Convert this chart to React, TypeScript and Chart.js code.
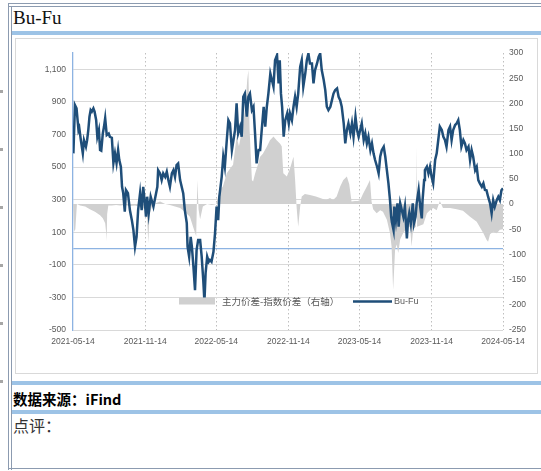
import React, { useEffect, useRef } from "react";
import { Chart, registerables } from "chart.js";

Chart.register(...registerables);

// x positions are days since 2021-05-14
const xTickDays = [0, 184, 365, 549, 730, 914, 1096];
const xTickLabels = ["2021-05-14", "2021-11-14", "2022-05-14", "2022-11-14", "2023-05-14", "2023-11-14", "2024-05-14"];

const leftTicks = [-500, -300, -100, 0, 100, 300, 500, 700, 900, 1100];
const rightTicks = [-250, -200, -150, -100, -50, 0, 50, 100, 150, 200, 250, 300];

// Bu-Fu (left axis)
const lineDays = [
  1, 5, 9, 14, 16, 20, 25, 28, 33, 36, 39, 42, 45, 48, 52, 55, 59, 62, 66, 69,
  72, 76, 79, 82, 86, 91, 94, 99, 103, 107, 111, 115, 118, 122, 125, 128, 132, 135, 140, 145,
  150, 154, 158, 162, 166, 171, 175, 179, 184, 186, 189, 193, 198, 205, 210, 215, 217, 222, 226, 230,
  235, 239, 243, 247, 252, 256, 260, 264, 268, 273, 281, 285, 290, 292, 296, 300, 303, 307, 311, 315,
  319, 324, 328, 332, 335, 338, 342, 346, 349, 353, 358, 362, 366, 370, 373, 379, 383, 387, 392, 396,
  400, 405, 409, 413, 417, 421, 426, 430, 434, 438, 443, 447, 451, 456, 460, 464, 468, 473, 477, 481,
  486, 490, 494, 498, 503, 507, 511, 515, 520, 524, 527, 530, 533, 537, 541, 546, 550, 553, 558, 562,
  566, 570, 574, 579, 583, 587, 592, 596, 600, 604, 609, 613, 617, 622, 626, 630, 634, 639, 643, 647,
  651, 656, 660, 664, 668, 673, 677, 681, 685, 690, 694, 698, 702, 707, 711, 715, 720, 724, 728, 732,
  736, 741, 745, 749, 753, 758, 762, 766, 770, 775, 779, 783, 787, 792, 796, 800, 804, 808, 811, 813,
  817, 819, 823, 827, 830, 834, 838, 842, 846, 851, 854, 857, 861, 866, 869, 873, 876, 881, 885, 889,
  891, 895, 897, 902, 906, 910, 914, 918, 923, 927, 931, 935, 940, 944, 948, 952, 957, 961, 965, 969,
  974, 978, 982, 986, 990, 995, 999, 1003, 1008, 1012, 1016, 1020, 1025, 1029, 1033, 1037, 1042, 1046, 1050, 1054,
  1058, 1063, 1067, 1071, 1075, 1080, 1084, 1088, 1092, 1096,
];
const buFu = [
  584, 880, 860, 727, 740, 665, 585, 665, 625, 665, 727, 809, 850, 840, 860, 840, 789, 686, 727, 604,
  600, 706, 747, 800, 696, 706, 686, 680, 524, 584, 524, 604, 543, 502, 379, 340, 226, 359, 340, 236,
  174, 113, 11, 72, 236, 340, 236, 379, 257, 195, 318, 216, 318, 257, 318, 379, 481, 461, 420, 461,
  440, 471, 420, 379, 461, 481, 440, 512, 522, 420, 338, 236, 156, 11, -50, 72, 11, -112, -255, -10,
  52, 52, -50, -193, -326, -150, -50, -81, -70, -81, -20, 93, 257, 174, 318, 440, 564, 502, 666, 788,
  768, 604, 666, 727, 891, 707, 748, 686, 931, 951, 809, 931, 951, 850, 870, 707, 523, 604, 604, 727,
  870, 748, 870, 951, 1074, 1034, 993, 1156, 1187, 1013, 1156, 952, 870, 686, 788, 830, 768, 830, 788, 870,
  931, 870, 951, 1115, 1156, 993, 1074, 1156, 1197, 1136, 1136, 1013, 1095, 1136, 1176, 1197, 1095, 1034, 972, 870,
  850, 870, 911, 951, 972, 983, 931, 911, 870, 768, 645, 727, 768, 707, 768, 686, 809, 727, 686, 727,
  768, 666, 707, 645, 686, 604, 645, 584, 543, 502, 461, 563, 604, 625, 563, 481, 400, 297, 195, 160,
  113, 257, 174, 277, 134, 277, 236, 195, 257, 62, 174, 216, 154, 277, 154, 195, 277, 359, 257, 185,
  297, 420, 481, 502, 461, 502, 440, 400, 543, 584, 666, 748, 727, 686, 666, 625, 727, 748, 666, 727,
  758, 768, 788, 727, 625, 666, 645, 604, 625, 543, 604, 563, 481, 502, 420, 400, 379, 400, 359, 357,
  318, 277, 216, 297, 257, 297, 318, 297, 357, 370,
];

// 主力价差-指数价差 (right axis)
const spreadDays = [
  0, 3, 6, 10, 18, 31, 43, 56, 69, 76, 82, 85, 86, 87, 90, 99, 110, 120, 133, 145,
  158, 171, 184, 189, 192, 195, 201, 212, 222, 235, 247, 260, 273, 285, 298, 306, 314, 317, 320, 324,
  331, 342, 354, 365, 370, 375, 382, 392, 400, 408, 417, 423, 434, 440, 444, 447, 450, 456, 459, 464,
  472, 477, 484, 494, 502, 511, 519, 528, 532, 536, 545, 553, 562, 566, 570, 574, 579, 583, 591, 604,
  619, 630, 637, 645, 655, 663, 672, 681, 689, 698, 704, 710, 719, 726, 732, 739, 749, 757, 761, 765,
  774, 783, 790, 800, 808, 812, 816, 821, 825, 829, 834, 842, 851, 859, 863, 867, 874, 876, 877, 893,
  902, 910, 918, 927, 935, 943, 961, 978, 994, 1012, 1029, 1046, 1054, 1058, 1063, 1071, 1080, 1088, 1096,
];
const spread = [
  0, -55, -50, 0, -3, -5, -10, -15, -22, -28, -38, -60, -74, -20, -3, -3, -2, -3, -2, -4,
  -3, -6, -10, -30, -78, -20, -5, 2, 5, 0, -2, -5, -8, -15, -25, -45, -64, 48, -10, -30,
  -5, 0, -2, 0, 15, 28, 35, 61, 70, 78, 134, 115, 160, 200, 246, 266, 150, 48, 45, 60,
  80, 94, 100, 114, 127, 134, 127, 120, 115, 61, 55, 70, 94, 50, -7, -45, -5, 15, 20, 18,
  15, 12, 10, 8, 12, 8, 15, 35, 48, 55, 40, 5, 6, 6, 8, 20, 35, 48, 5, -10,
  -18, -12, -15, -31, -58, -84, -170, -90, -80, -97, -70, -57, -48, -45, -84, -50, -45, 115, -45, -40,
  -18, -12, -8, -12, 6, -8, -8, -10, -13, -25, -35, -58, -71, -75, -60, -55, -58, -51, -50,
];

const TICK_COLOR = "#595959";
const AXIS_BLUE = "#8DB3E2";
const LINE_BLUE = "#1F4E79";
const AREA_GRAY = "#D0D0D0";

const legendPlugin = {
  id: "insideLegend",
  afterDraw(chart: any) {
    const { ctx, chartArea } = chart;
    const l = chartArea.left;
    const b = chartArea.bottom;
    const cy = b - 28.5;
    ctx.save();
    ctx.fillStyle = AREA_GRAY;
    ctx.fillRect(l + 106, cy - 4, 36, 7);
    ctx.fillStyle = TICK_COLOR;
    ctx.textBaseline = "middle";
    ctx.textAlign = "left";
    ctx.font = "9.5px 'Noto Sans CJK SC'";
    ctx.fillText(chart.data.datasets[1].label, l + 149, cy);
    ctx.strokeStyle = LINE_BLUE;
    ctx.lineWidth = 2.4;
    ctx.beginPath();
    ctx.moveTo(l + 280, cy);
    ctx.lineTo(l + 319, cy);
    ctx.stroke();
    ctx.font = "9px 'Liberation Sans'";
    ctx.fillText(chart.data.datasets[0].label, l + 321, cy);
    ctx.restore();
  },
};

function ChartBox() {
  const ref = useRef<HTMLCanvasElement | null>(null);
  useEffect(() => {
    if (!ref.current) return;
    const tickFont = { family: "'Liberation Sans', sans-serif", size: 8.5 };
    const chart = new Chart(ref.current, {
      type: "line",
      data: {
        datasets: [
          {
            label: "Bu-Fu",
            data: lineDays.map((d, i) => ({ x: d, y: buFu[i] })),
            borderColor: LINE_BLUE,
            borderWidth: 2.5,
            pointRadius: 0,
            tension: 0,
            fill: false,
            yAxisID: "y",
          },
          {
            label: "主力价差-指数价差（右轴）",
            data: spreadDays.map((d, i) => ({ x: d, y: spread[i] })),
            borderColor: "rgba(0,0,0,0)",
            borderWidth: 0,
            backgroundColor: AREA_GRAY,
            pointRadius: 0,
            tension: 0,
            fill: "origin",
            yAxisID: "y1",
          },
        ],
      },
      options: {
        animation: false,
        responsive: false,
        maintainAspectRatio: false,
        layout: { padding: { top: 14, left: 0, right: 0, bottom: 0 } },
        plugins: { legend: { display: false }, tooltip: { enabled: false } },
        scales: {
          x: {
            type: "linear",
            min: 0,
            max: 1096,
            afterBuildTicks: (s: any) => {
              s.ticks = xTickDays.map((v) => ({ value: v }));
            },
            afterFit: (s: any) => {
              s.height = 43;
            },
            ticks: {
              autoSkip: false,
              maxRotation: 0,
              padding: 7,
              color: TICK_COLOR,
              font: tickFont,
              callback: (v: any) => {
                const i = xTickDays.indexOf(Number(v));
                return i >= 0 ? xTickLabels[i] : "";
              },
            },
            grid: {
              drawTicks: false,
              color: (c: any) => (c.tick && c.tick.value === 0 ? "rgba(0,0,0,0)" : "#BFBFBF"),
              lineWidth: 1,
            },
            border: { display: false, dash: [1.5, 2.5] },
          },
          y: {
            type: "linear",
            position: "left",
            min: -500,
            max: 1200,
            afterBuildTicks: (s: any) => {
              s.ticks = leftTicks.map((v) => ({ value: v }));
            },
            afterFit: (s: any) => {
              s.width = 57;
            },
            ticks: {
              padding: 7,
              color: TICK_COLOR,
              font: tickFont,
              callback: (v: any) => (Number(v) === 0 ? "" : Number(v).toLocaleString("en-US")),
            },
            grid: {
              drawTicks: false,
              color: (c: any) => (c.tick && c.tick.value === 0 ? AXIS_BLUE : "#D9D9D9"),
              lineWidth: (c: any) => (c.tick && c.tick.value === 0 ? 1.3 : 1),
            },
            border: { display: true, color: AXIS_BLUE, width: 1.3 },
          },
          y1: {
            type: "linear",
            position: "right",
            min: -250,
            max: 300,
            afterBuildTicks: (s: any) => {
              s.ticks = rightTicks.map((v) => ({ value: v }));
            },
            afterFit: (s: any) => {
              s.width = 34;
            },
            ticks: { padding: 6, color: TICK_COLOR, font: tickFont },
            grid: { display: false, drawTicks: false },
            border: { display: false },
          },
        },
      },
      plugins: [legendPlugin],
    } as any);
    return () => chart.destroy();
  }, []);
  return <canvas ref={ref} width={521} height={334} style={{ position: "absolute", left: 16, top: 39, width: 521, height: 334 }} />;
}

const frame = "#8C9BB0";
const bar = "#9DC3E6";

function Box(props: { l: number; t: number; w: number; h: number; c: string }) {
  return <div style={{ position: "absolute", left: props.l, top: props.t, width: props.w, height: props.h, background: props.c }} />;
}

export default function App() {
  const dotYs = [90, 148, 206, 264, 322, 380];
  return (
    <div style={{ position: "fixed", left: 0, top: 0, width: 541, height: 471, background: "#fff", overflow: "hidden" }}>
      {dotYs.map((y) => (
        <Box key={y} l={0} t={y} w={3} h={3} c="#A6A6A6" />
      ))}
      <Box l={8} t={3} w={533} h={1} c={frame} />
      <Box l={8} t={6} w={533} h={1} c={frame} />
      <Box l={8} t={3} w={1} h={467} c={frame} />
      <Box l={11} t={6} w={1} h={464} c={frame} />
      <Box l={8} t={468} w={533} h={1} c={frame} />
      <div style={{ position: "absolute", left: 13, top: 6, lineHeight: "23px", fontSize: 19, fontFamily: "'Liberation Serif', serif", color: "#111" }}>Bu-Fu</div>
      <Box l={12} t={31} w={529} h={4} c={bar} />
      <div style={{ position: "absolute", left: 15, top: 38, width: 521, height: 334, border: "1px solid #D9D9D9" }} />
      <ChartBox />
      <Box l={12} t={381} w={529} h={4} c={bar} />
      <div style={{ position: "absolute", left: 13, top: 389, lineHeight: "20px", fontSize: 14.5, fontWeight: "bold", fontFamily: "'Noto Sans CJK SC', sans-serif", color: "#000" }}>数据来源：iFind</div>
      <Box l={12} t={410} w={529} h={4} c={bar} />
      <div style={{ position: "absolute", left: 13, top: 415, lineHeight: "20px", fontSize: 16, fontFamily: "'Noto Sans CJK SC', sans-serif", color: "#333" }}>点评：</div>
    </div>
  );
}
